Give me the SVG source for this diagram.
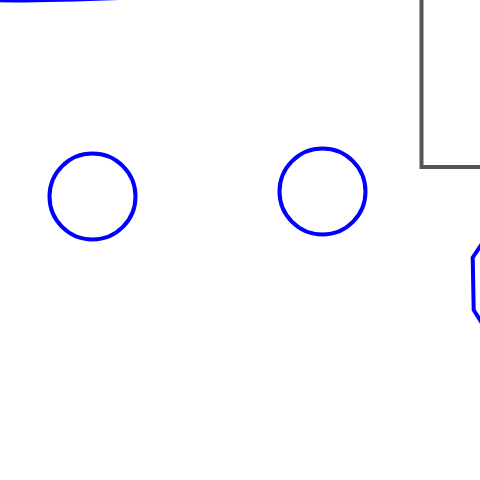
<svg xmlns="http://www.w3.org/2000/svg" width="480" height="480" viewBox="0 0 480 480">
<style>
.blue{fill:none;stroke:#0000ff;stroke-width:4}
.gray{fill:none;stroke:#555555;stroke-width:4}
</style>
<rect width="480" height="480" fill="#ffffff"/>
<g id="arc-top"><path class="blue" d="M -10 0.2 Q 40 1.2 130 -2.4"/></g>
<g id="rect-gray"><rect class="gray" x="421.5" y="-20" width="100" height="187"/></g>
<g id="circle-1"><circle class="blue" cx="92.5" cy="196.5" r="43"/></g>
<g id="circle-2"><circle class="blue" cx="322.5" cy="191.5" r="43"/></g>
<g id="hexagon"><polygon class="blue" points="487,236 472.7,257.5 473.7,310 487,331 560,331 560,236"/></g>
<g id="connectors"></g>
</svg>
